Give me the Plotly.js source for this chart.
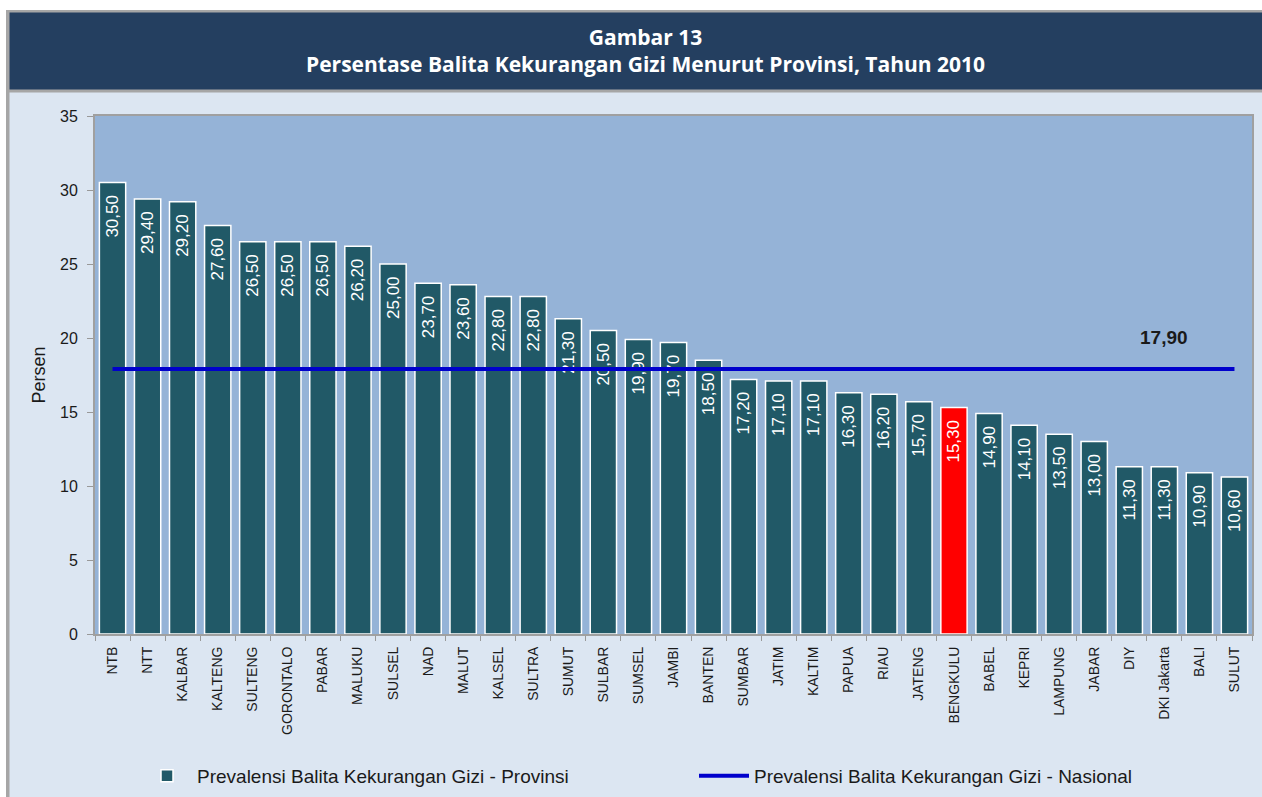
<!DOCTYPE html>
<html>
<head>
<meta charset="utf-8">
<script src="https://cdn.plot.ly/plotly-3.0.1.min.js"></script>
<style>html,body{margin:0;padding:0;background:#fff;}#chart{width:1262px;height:797px;}</style>
</head>
<body>
<div id="chart"></div>
<script>
const provinces = ["NTB","NTT","KALBAR","KALTENG","SULTENG","GORONTALO","PABAR","MALUKU","SULSEL","NAD","MALUT","KALSEL","SULTRA","SUMUT","SULBAR","SUMSEL","JAMBI","BANTEN","SUMBAR","JATIM","KALTIM","PAPUA","RIAU","JATENG","BENGKULU","BABEL","KEPRI","LAMPUNG","JABAR","DIY","DKI Jakarta","BALI","SULUT"];
const prevalensi = [30.5,29.4,29.2,27.6,26.5,26.5,26.5,26.2,25.0,23.7,23.6,22.8,22.8,21.3,20.5,19.9,19.7,18.5,17.2,17.1,17.1,16.3,16.2,15.7,15.3,14.9,14.1,13.5,13.0,11.3,11.3,10.9,10.6];
const nasional = 17.9;
const highlight = "BENGKULU";
const titleLine1 = "Gambar 13";
const titleLine2 = "Persentase Balita Kekurangan Gizi Menurut Provinsi, Tahun 2010";
const seriesProv = "Prevalensi Balita Kekurangan Gizi - Provinsi";
const seriesNas = "Prevalensi Balita Kekurangan Gizi - Nasional";

const W = 1262, H = 797;
const M = {l:95, r:10, t:116, b:163, autoexpand:false};
const pw = W - M.l - M.r, ph = H - M.t - M.b;
const px = p => (p - M.l) / pw;
const py = p => (H - M.b - p) / ph;

const barColors = provinces.map(p => p === highlight ? "#FF0000" : "#215967");

const traces = [
  {
    type: "bar", x: provinces, y: prevalensi, name: seriesProv,
    marker: {color: barColors, line: {color: "#FFFFFF", width: 1.5}},
    texttemplate: "%{y:.2f}\u00a0\u00a0", textposition: "inside", insidetextanchor: "end",
    textangle: -90, textfont: {family: "Arial, Liberation Sans", size: 17, color: "#FFFFFF"},
    hoverinfo: "x+y"
  },
  {
    type: "scatter", mode: "lines", x: provinces, y: provinces.map(() => nasional),
    name: seriesNas, line: {color: "#0000CC", width: 4}, hoverinfo: "y"
  }
];

const gray = "#A6A6A6";
const shapes = [
  {type:"rect", xref:"paper", yref:"paper", x0:px(0), x1:px(W), y0:py(0), y1:py(10), fillcolor:"#FFFFFF", line:{width:0}, layer:"below"},
  {type:"rect", xref:"paper", yref:"paper", x0:px(0), x1:px(6), y0:py(0), y1:py(H), fillcolor:"#FFFFFF", line:{width:0}, layer:"below"},
  {type:"rect", xref:"paper", yref:"paper", x0:px(6), x1:px(W), y0:py(12), y1:py(90), fillcolor:"#243F60", line:{width:0}, layer:"below"},
  {type:"rect", xref:"paper", yref:"paper", x0:px(6), x1:px(W), y0:py(10), y1:py(12.5), fillcolor:gray, line:{width:0}, layer:"below"},
  {type:"rect", xref:"paper", yref:"paper", x0:px(6), x1:px(W), y0:py(89.5), y1:py(92.5), fillcolor:gray, line:{width:0}, layer:"below"},
  {type:"rect", xref:"paper", yref:"paper", x0:px(6), x1:px(9.5), y0:py(10), y1:py(H), fillcolor:gray, line:{width:0}, layer:"below"}
];

const annotations = [
  {xref:"paper", yref:"paper", x:px(645), y:py(50), text:"<b>"+titleLine1+"</b><br><b>"+titleLine2+"</b>", showarrow:false,
   font:{family:"Open Sans, Noto Sans", size:21, color:"#FFFFFF"}, xanchor:"center", yanchor:"middle", align:"center"},
  {x:"DKI Jakarta", y:nasional, yshift:32, text:"<b>17,90</b>", showarrow:false,
   font:{family:"Arial, Liberation Sans", size:19, color:"#1A1A1A"}, xanchor:"center", yanchor:"middle"}
];

const layout = {
  width: W, height: H,
  margin: M,
  paper_bgcolor: "#DCE6F2",
  plot_bgcolor: "#95B3D7",
  separators: ",.",
  bargap: 0.25,
  showlegend: true,
  legend: {orientation:"h", x:px(137), xanchor:"left", y:py(776), yanchor:"middle",
           font:{family:"Arial, Liberation Sans", size:19, color:"#1A1A1A"},
           entrywidth:492, entrywidthmode:"pixels", bgcolor:"rgba(0,0,0,0)", itemwidth:50},
  xaxis: {type:"category", automargin:false, tickangle:-90, tickfont:{family:"Arial, Liberation Sans", size:14, color:"#1A1A1A"},
          ticks:"outside", tickson:"boundaries", ticklen:5, tickcolor:"#999999", ticklabelstandoff:5,
          showline:true, linecolor:"#A0A0A0", linewidth:2, mirror:true, showgrid:false, zeroline:false},
  yaxis: {range:[0,35], dtick:5, tick0:0, automargin:false, tickfont:{family:"Arial, Liberation Sans", size:16, color:"#1A1A1A"},
          ticks:"outside", ticklen:6, tickcolor:"#999999", ticklabelstandoff:6,
          showline:true, linecolor:"#A0A0A0", linewidth:2, mirror:true, showgrid:false, zeroline:false,
          title:{text:"Persen", font:{family:"Arial, Liberation Sans", size:18, color:"#1A1A1A"}, standoff:10}},
  shapes: shapes,
  annotations: annotations
};

Plotly.newPlot("chart", traces, layout, {displayModeBar:false, staticPlot:true});
</script>
</body>
</html>
